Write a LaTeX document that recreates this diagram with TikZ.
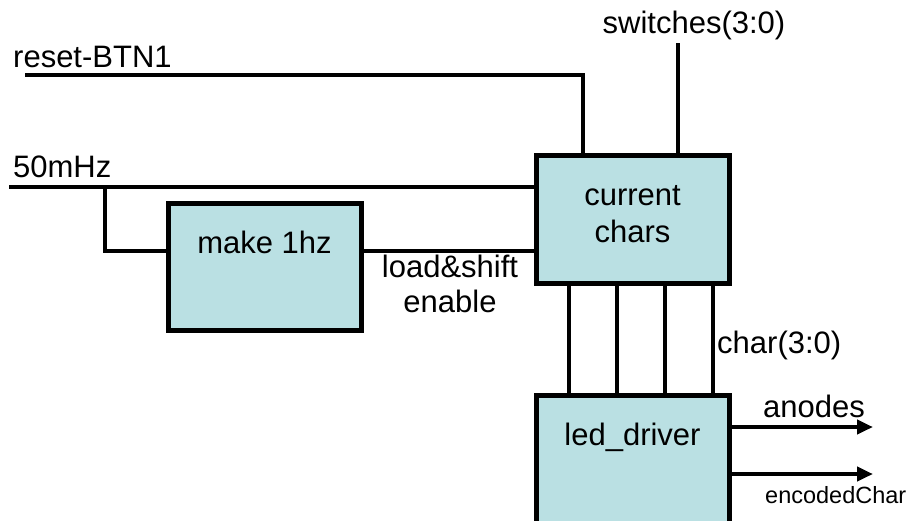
\documentclass[tikz,border=0pt]{standalone}
\usepackage{fontspec}
\setmainfont{Liberation Sans}
\usetikzlibrary{arrows.meta}
\definecolor{boxfill}{RGB}{186,224,227}
\begin{document}
\begin{tikzpicture}[x=1pt,y=-1pt,
  blk/.style={draw=black, line width=5pt, fill=boxfill, inner sep=0pt, font=\fontsize{31}{37}\selectfont},
  wire/.style={line width=4.5pt},
  thinwire/.style={line width=3.3pt},
  sig/.style={line width=4.5pt, -{Triangle[length=16pt,width=14pt]}},
  lbl/.style={inner sep=0pt, font=\fontsize{31}{37}\selectfont},
  smalllbl/.style={inner sep=0pt, font=\fontsize{23.5}{28}\selectfont}]
\useasboundingbox (0,0) rectangle (908,520);

% blocks
\node[blk, minimum width=193pt, minimum height=128pt, text height=59pt, text depth=13pt] (cur) at (632.5,219)
  {\begin{tabular}[b]{@{}c@{}}current\\chars\end{tabular}};
\node[blk, minimum width=193pt, minimum height=127pt, text height=22pt, text depth=49pt] (mk) at (264.5,266.5) {make 1hz};
\node[blk, minimum width=193pt, minimum height=130pt, text height=22pt, text depth=52pt] (led) at (632.5,460) {led\_driver};

% helper coordinates
\coordinate (rstin) at (25,75);
\coordinate (rx) at (583,75);
\coordinate (clkin) at (9,187);
\coordinate (clkbr) at (105,187);
\coordinate (ld) at (0,251);
\coordinate (swin) at (678,43);
\coordinate (an) at (873,427);
\coordinate (enc) at (873,474);

% wires
\draw[wire] (rstin) -| (cur.north -| rx);
\draw[wire] (clkin) -- (cur.west |- clkin);
\draw[wire] (clkbr) |- (mk.west |- ld);
\draw[wire] (mk.east |- ld) -- (cur.west |- ld);
\draw[thinwire] (swin) -- (swin |- cur.north);
\foreach \x [count=\i] in {569,617,665,713}{
  \coordinate (ch\i) at (\x,0);
  \draw[wire] (cur.south -| ch\i) -- (led.north -| ch\i);
}
\draw[sig] (led.east |- an) -- (an);
\draw[sig] (led.east |- enc) -- (enc);

% labels
\node[lbl, anchor=base west] (lrst) at (13,67) {reset-BTN1};
\node[lbl, anchor=base west] (lclk) at (13,177) {50mHz};
\node[lbl, anchor=base] (lsw) at (694,33) {switches(3:0)};
\node[lbl, align=center, anchor=north, font=\fontsize{31}{35}\selectfont] (lld) at (450,254.5) {load\&shift\\enable};
\node[lbl, anchor=base west] (lch) at (717,353) {char(3:0)};
\node[lbl, anchor=base west] (lan) at (763,417) {anodes};
\node[smalllbl, anchor=base west] (lenc) at (765,503) {encodedChar};
\end{tikzpicture}
\end{document}
